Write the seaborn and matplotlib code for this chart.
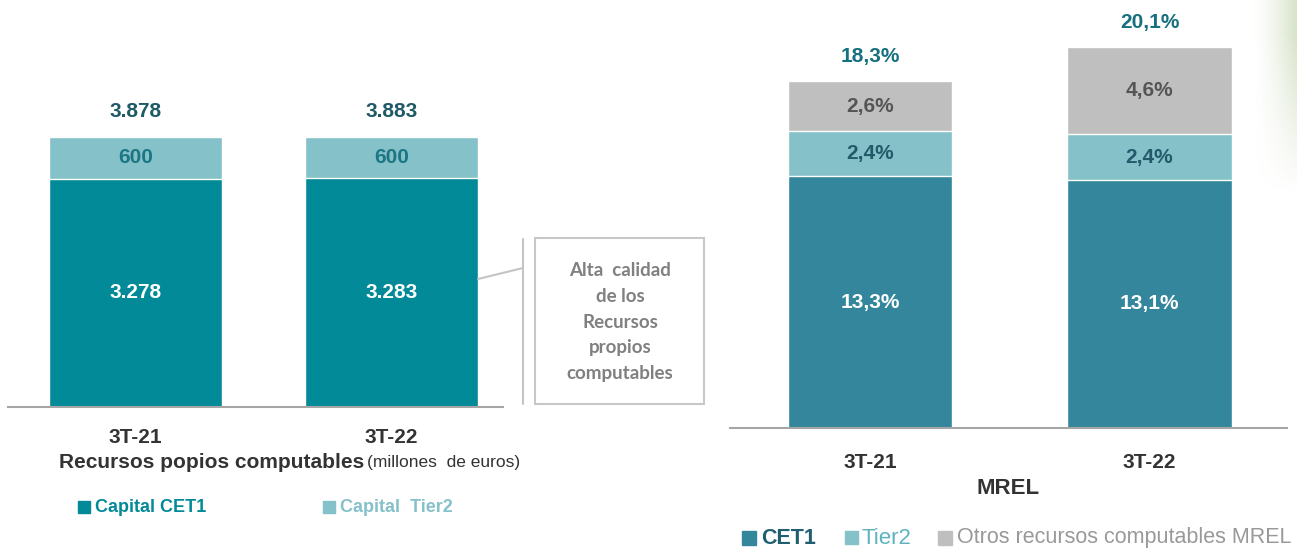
import numpy as np
import pandas as pd
import seaborn as sns
import matplotlib.pyplot as plt
from matplotlib.patches import Rectangle
from matplotlib.lines import Line2D

sns.set_style("white")
plt.rcParams['font.family'] = ['Liberation Sans', 'DejaVu Sans']

W, H = 1297, 552

# datos
periodos = ["3T-21", "3T-22"]
rp_cet1 = [3278, 3283]
rp_tier2 = [600, 600]
mrel_cet1 = [13.3, 13.1]
mrel_tier2 = [2.4, 2.4]
mrel_otros = [2.6, 4.6]

rp = pd.DataFrame({"periodo": periodos, "cet1": rp_cet1, "tier2": rp_tier2})
rp["total"] = rp["cet1"] + rp["tier2"]
mr = pd.DataFrame({"periodo": periodos, "cet1": mrel_cet1, "tier2": mrel_tier2, "otros": mrel_otros})
mr["t2"] = mr["cet1"] + mr["tier2"]
mr["total"] = mr["t2"] + mr["otros"]

c_cet1_l = "#028a99"
c_tier2 = "#84c1c9"
c_cet1_r = "#33869c"
c_otros = "#bfbfbf"


def fx(x):
    return x / W


def fy(y):
    return 1 - y / H


def es_miles(v):
    return f"{v:,.0f}".replace(",", ".")


def es_pct(v):
    return f"{v:.1f}%".replace(".", ",")


fig = plt.figure(figsize=(W / 100, H / 100), dpi=100)

# ---- izquierda: recursos propios computables
ax1 = fig.add_axes([fx(8), fy(407), fx(495), 307 / H])
sns.barplot(data=rp, x="periodo", y="total", color=c_tier2, width=0.676,
            saturation=1, ax=ax1)
sns.barplot(data=rp, x="periodo", y="cet1", color=c_cet1_l, width=0.676,
            saturation=1, ax=ax1)
ax1.set_xlim(-0.498, 1.436)
ax1.set_ylim(0, 4409)
for i, r in rp.iterrows():
    ax1.text(i, r["cet1"] / 2, es_miles(r["cet1"]), ha="center", va="center",
             color="white", fontsize=15, fontweight="bold")
    ax1.text(i, r["cet1"] + r["tier2"] / 2, es_miles(r["tier2"]), ha="center",
             va="center", color="#1d7584", fontsize=15, fontweight="bold")
    ax1.annotate(es_miles(r["total"]), (i, r["total"]), xytext=(0, 18),
                 textcoords="offset points", ha="center", va="center",
                 color="#1f5a66", fontsize=15, fontweight="bold")

# ---- derecha: MREL
ax2 = fig.add_axes([fx(730), fy(428), fx(557), 428 / H])
sns.barplot(data=mr, x="periodo", y="total", color=c_otros, width=0.587,
            saturation=1, ax=ax2)
sns.barplot(data=mr, x="periodo", y="t2", color=c_tier2, width=0.587,
            saturation=1, ax=ax2)
sns.barplot(data=mr, x="periodo", y="cet1", color=c_cet1_r, width=0.587,
            saturation=1, ax=ax2)
ax2.set_xlim(-0.501, 1.492)
ax2.set_ylim(0, 22.6)
for i, r in mr.iterrows():
    ax2.text(i, r["cet1"] / 2, es_pct(r["cet1"]), ha="center", va="center",
             color="white", fontsize=15, fontweight="bold")
    ax2.text(i, r["cet1"] + r["tier2"] / 2, es_pct(r["tier2"]), ha="center",
             va="center", color="#24596a", fontsize=15, fontweight="bold")
    ax2.text(i, r["t2"] + r["otros"] / 2, es_pct(r["otros"]), ha="center",
             va="center", color="#555555", fontsize=15, fontweight="bold")
    ax2.annotate(es_pct(r["total"]), (i, r["total"]), xytext=(0, 18),
                 textcoords="offset points", ha="center", va="center",
                 color="#17707e", fontsize=15, fontweight="bold")

for ax, pad in [(ax1, 15), (ax2, 18)]:
    sns.despine(ax=ax, left=True)
    ax.spines["bottom"].set_color("#a6a6a6")
    ax.spines["bottom"].set_linewidth(1.5)
    ax.set_yticks([])
    ax.set_xlabel("")
    ax.set_ylabel("")
    ax.tick_params(axis="x", length=0, pad=pad, labelsize=15, labelcolor="#333333")
    for t in ax.get_xticklabels():
        t.set_fontweight("bold")

# titulos
fig.text(fx(364), fy(462), "Recursos popios computables", ha="right", va="center",
         fontsize=15, fontweight="bold", color="#333333")
fig.text(fx(367), fy(463), "(millones  de euros)", ha="left", va="center",
         fontsize=12.5, color="#333333")
fig.text(fx(1008), fy(489), "MREL", ha="center", va="center",
         fontsize=16, fontweight="bold", color="#333333")

# leyendas
def caja(x, y, s, color):
    fig.patches.append(Rectangle((fx(x), fy(y + s)), s / W, s / H, color=color,
                                 transform=fig.transFigure, figure=fig))


caja(78, 501, 12, c_cet1_l)
fig.text(fx(95), fy(507), "Capital CET1", va="center", fontsize=13,
         fontweight="bold", color=c_cet1_l)
caja(323, 501, 12, c_tier2)
fig.text(fx(340), fy(507), "Capital  Tier2", va="center", fontsize=13,
         fontweight="bold", color=c_tier2)

caja(742, 531, 14, c_cet1_r)
fig.text(fx(761), fy(538), "CET1", va="center", fontsize=15.5,
         fontweight="bold", color="#1f5f70")
caja(845, 531, 13, c_tier2)
fig.text(fx(862), fy(538), "Tier2", va="center", fontsize=16, color="#5fb3bf")
caja(938, 531, 14, c_otros)
fig.text(fx(957), fy(538), "Otros recursos computables MREL", va="center",
         fontsize=15.5, color="#999999")

# recuadro de comentario
fig.patches.append(Rectangle((fx(535), fy(404)), 169 / W, 166 / H, fill=False,
                             edgecolor="#c8c8c8", linewidth=1.5,
                             transform=fig.transFigure, figure=fig))
fig.lines.append(Line2D([fx(523), fx(523)], [fy(239), fy(404)], color="#c4c4c4",
                        linewidth=1.5, transform=fig.transFigure, figure=fig))
fig.lines.append(Line2D([fx(478), fx(523)], [fy(279), fy(268)], color="#c4c4c4",
                        linewidth=1.5, transform=fig.transFigure, figure=fig))
for k, linea in enumerate(["Alta  calidad", "de los", "Recursos", "propios", "computables"]):
    fig.text(fx(620), fy(270 + 26 * k), linea, ha="center", va="center",
             fontsize=13.5, fontweight="bold", color="#808080", family=["Lato", "DejaVu Sans"])

# adorno verde del borde derecho
axg = fig.add_axes([fx(1252), fy(225), fx(45), 225 / H])
grad = np.zeros((50, 20, 4))
grad[..., 0] = 0.72
grad[..., 1] = 0.80
grad[..., 2] = 0.62
xs = np.linspace(0, 1, 20) ** 1.5
ys = np.clip(np.linspace(1.2, -0.2, 50), 0, 1)
grad[..., 3] = 0.55 * ys[:, None] * xs[None, :]
axg.imshow(grad, aspect="auto", interpolation="bilinear")
axg.axis("off")

fig.savefig("out.png", dpi=100)
